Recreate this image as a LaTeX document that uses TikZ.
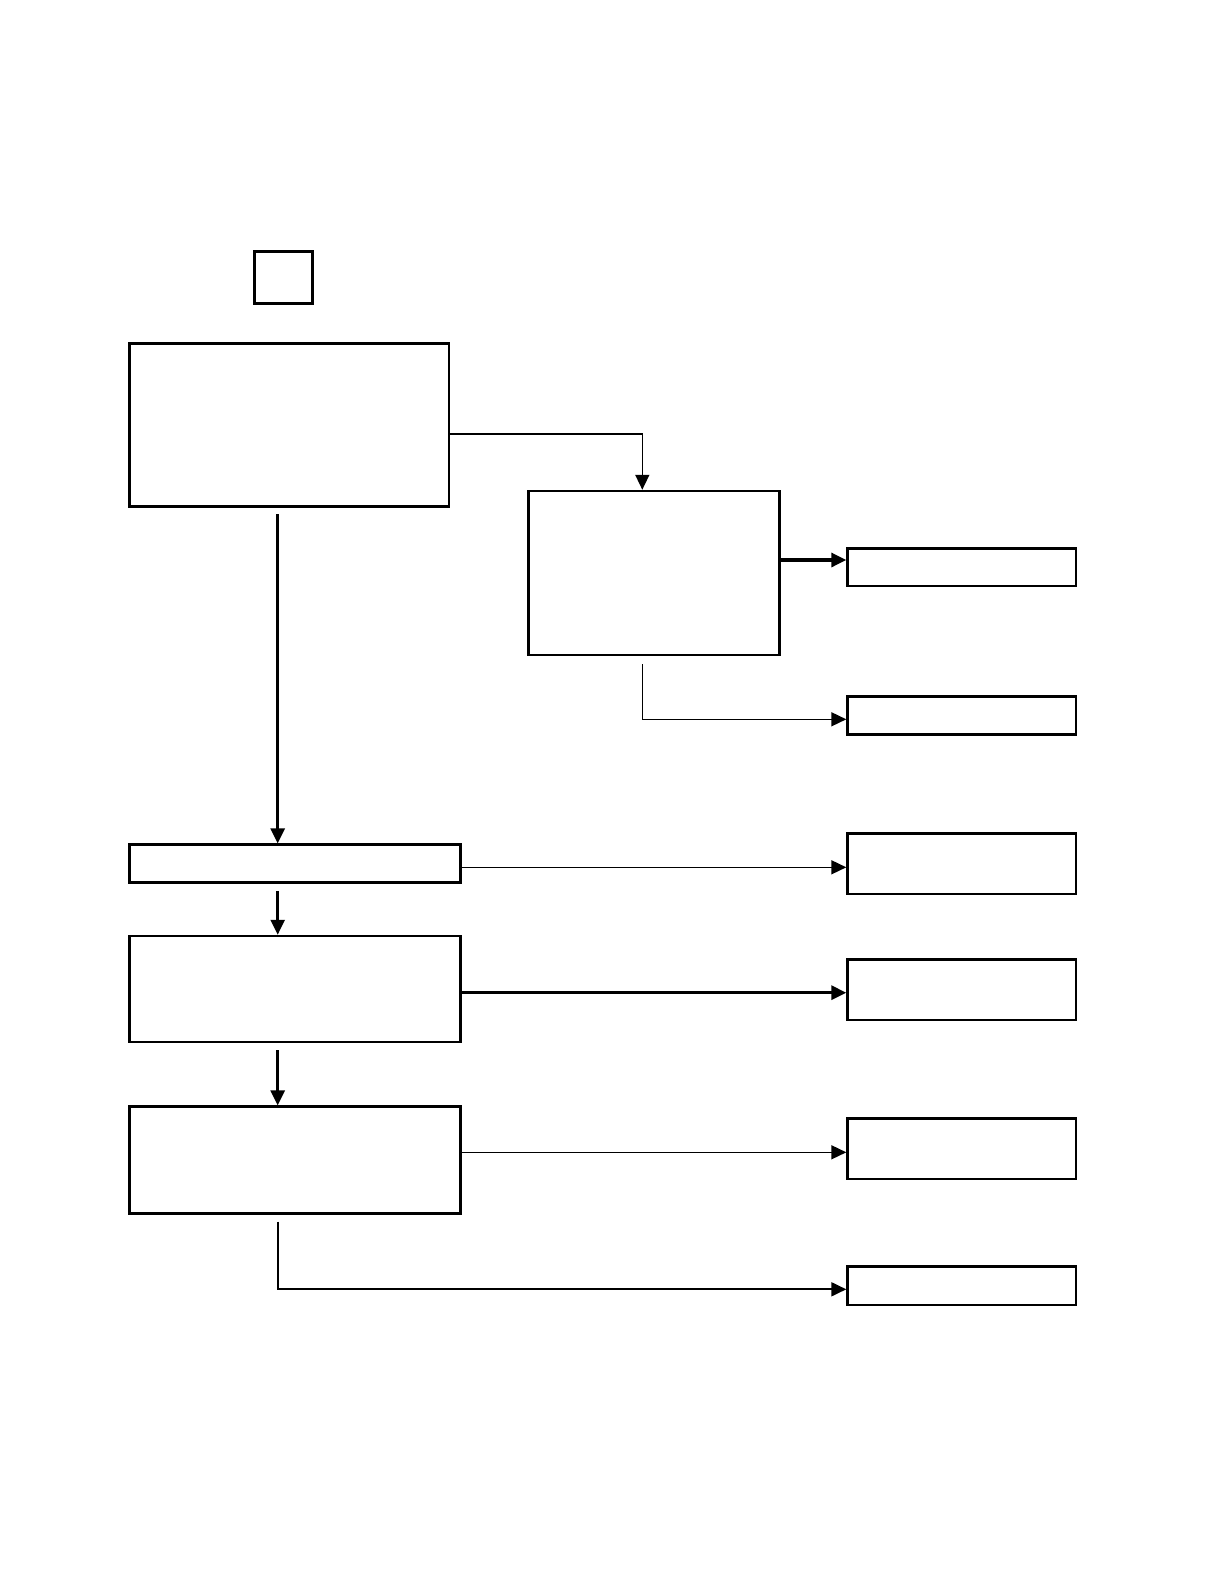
\documentclass[tikz,border=0pt]{standalone}
\usetikzlibrary{arrows.meta}
\begin{document}
\begin{tikzpicture}[x=1pt,y=-1pt]
    \tikzset{box/.style = {shape=rectangle,draw,line width=2.5pt,inner sep=0pt}}
    \tikzset{edge/.style = {-{Triangle[length=15pt,width=14pt]},line width=1.6pt}}
    \useasboundingbox (0,0) rectangle (1219,1587);
    \node[box,minimum width=57.6pt,minimum height=52pt] (tag) at (283.5,277.7) {};
    \node[box,minimum width=319.7pt,minimum height=163.4pt] (a) at (289.2,425) {};
    \node[box,minimum width=250.6pt,minimum height=164pt] (b) at (654,573) {};
    \node[box,minimum width=331pt,minimum height=38pt] (c) at (294.8,863.7) {};
    \node[box,minimum width=331pt,minimum height=106pt] (d) at (294.8,989) {};
    \node[box,minimum width=331pt,minimum height=106.6pt] (e) at (294.8,1160) {};
    \node[box,minimum width=228.5pt,minimum height=37.3pt] (r1) at (961.8,567.3) {};
    \node[box,minimum width=228.5pt,minimum height=37.6pt] (r2) at (961.8,715.5) {};
    \node[box,minimum width=228.5pt,minimum height=60.7pt] (r3) at (961.8,863.7) {};
    \node[box,minimum width=228.5pt,minimum height=60.7pt] (r4) at (961.8,989.7) {};
    \node[box,minimum width=228.5pt,minimum height=60.7pt] (r5) at (961.8,1148.7) {};
    \node[box,minimum width=228.5pt,minimum height=38.3pt] (r6) at (961.8,1285.8) {};
    \coordinate (spine) at (277.7,0);
    \coordinate (fork) at (642.3,0);
    \draw[edge] ([yshift=-9pt]a.east) -| (fork |- b.north);
    \draw[edge,line width=3.2pt] ([yshift=13pt]b.east) -- ([yshift=13pt]b.east -| r1.west);
    \draw[edge,shorten <=8pt] (fork |- b.south) |- ([yshift=-3.8pt]r2.west);
    \draw[edge,line width=2.5pt,shorten <=6.5pt] (spine |- a.south) -- (spine |- c.north);
    \draw[edge] ([yshift=-3.6pt]c.east) -- ([yshift=-3.6pt]c.east -| r3.west);
    \draw[edge,line width=2.5pt,shorten <=7pt] (spine |- c.south) -- (spine |- d.north);
    \draw[edge,line width=3.2pt] ([yshift=-3.7pt]d.east) -- ([yshift=-3.7pt]d.east -| r4.west);
    \draw[edge,line width=2.5pt,shorten <=7pt] (spine |- d.south) -- (spine |- e.north);
    \draw[edge] ([yshift=7.7pt]e.east) -- ([yshift=7.7pt]e.east -| r5.west);
    \draw[edge,line width=1.9pt,shorten <=7pt] (spine |- e.south) |- ([yshift=-3.5pt]r6.west);
\end{tikzpicture}
\end{document}
